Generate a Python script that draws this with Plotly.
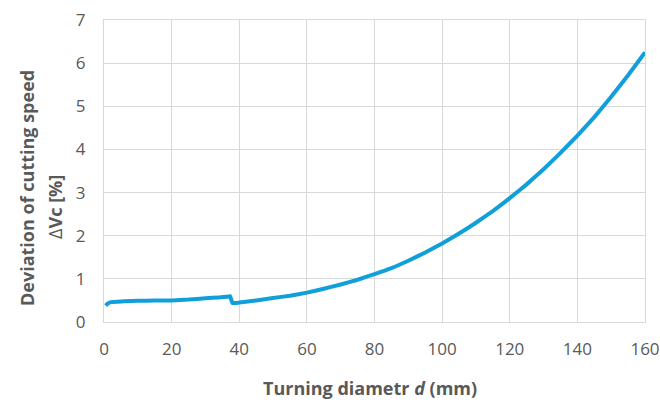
import plotly.graph_objects as go

# Turning diameter d (mm)
diameter = [0.5, 1, 2, 4, 6, 10, 15, 20, 25, 30, 34, 37, 37.3, 38, 40, 45, 50, 55, 60, 65, 70, 75, 80,
            85, 90, 95, 100, 105, 110, 115, 120, 125, 130, 135, 140, 145, 150, 155, 160]
# Deviation of cutting speed ΔVc (%)
deviation = [0.38, 0.42, 0.46, 0.47, 0.48, 0.49, 0.50, 0.50, 0.52, 0.55, 0.57, 0.59, 0.60, 0.44, 0.45,
             0.50, 0.555, 0.61, 0.68, 0.77, 0.87, 0.98, 1.11, 1.25, 1.42, 1.61, 1.82, 2.05, 2.30, 2.57,
             2.87, 3.19, 3.54, 3.92, 4.32, 4.75, 5.22, 5.72, 6.25]

x_ticks = [0, 20, 40, 60, 80, 100, 120, 140, 160]
y_ticks = [0, 1, 2, 3, 4, 5, 6, 7]

grey = "#595959"
grid = "#D9D9D9"

fig = go.Figure()
fig.add_trace(go.Scatter(x=diameter, y=deviation, mode="lines",
                         line=dict(color="#119FD9", width=4, shape="spline", smoothing=0.3),
                         showlegend=False))

fig.update_layout(
    width=660, height=403,
    margin=dict(l=104, r=15, t=20, b=81),
    paper_bgcolor="white", plot_bgcolor="white",
    font=dict(family="Open Sans", color=grey, size=17),
    xaxis=dict(range=[0, 160], tickvals=x_ticks, showgrid=True, gridcolor=grid, gridwidth=1,
               zeroline=False, showline=True, linecolor=grid, mirror=True, automargin=False,
               ticks="", ticklabelstandoff=12, tickfont=dict(size=17, color=grey)),
    yaxis=dict(range=[0, 7], tickvals=y_ticks, showgrid=True, gridcolor=grid, gridwidth=1,
               zeroline=False, showline=True, linecolor=grid, mirror=True, automargin=False,
               ticks="", ticklabelstandoff=14, tickfont=dict(size=17, color=grey)),
    annotations=[
        dict(text="<b>Turning diametr <i>d</i> (mm)</b>", xref="paper", yref="paper",
             x=0.492, y=-0.2185, xanchor="center", yanchor="middle", showarrow=False,
             font=dict(size=18, color=grey)),
        dict(text="<b>Deviation of cutting speed</b>", xref="paper", yref="paper",
             x=-0.1423, y=0.4437, xanchor="center", yanchor="middle", showarrow=False,
             textangle=-90, font=dict(size=18, color=grey)),
        dict(text="Δ<b>Vc [%]</b>", xref="paper", yref="paper",
             x=-0.0906, y=0.381, xanchor="center", yanchor="middle", showarrow=False,
             textangle=-90, font=dict(size=18, color=grey)),
    ],
)

fig.write_html("out.html", config={"displayModeBar": False},
               post_script="document.body.style.margin='0';document.body.style.overflow='hidden';")
